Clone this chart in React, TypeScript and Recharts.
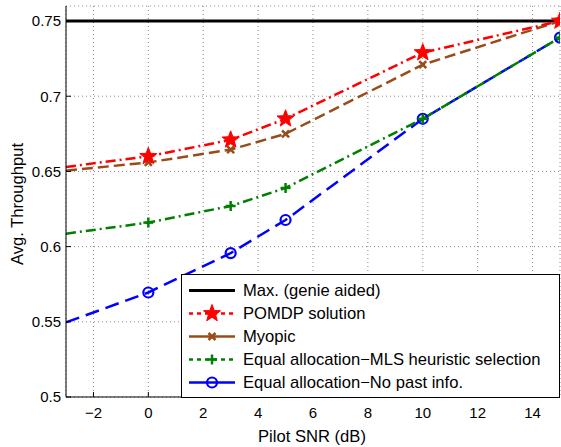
import React from 'react';
import { LineChart, Line, XAxis, YAxis, CartesianGrid, Legend, Label } from 'recharts';

const snr = [-3, 0, 3, 5, 10, 15];
const maxGenie = [0.75, 0.75, 0.75, 0.75, 0.75, 0.75];
const pomdp = [0.653, 0.66, 0.671, 0.685, 0.729, 0.75];
const myopic = [0.6505, 0.656, 0.6645, 0.675, 0.721, 0.75];
const equalMls = [0.6086, 0.616, 0.627, 0.639, 0.685, 0.739];
const equalNoPast = [0.5496, 0.5695, 0.5957, 0.6177, 0.685, 0.739];
const xTicks = [-2, 0, 2, 4, 6, 8, 10, 12, 14];
const yTicks = [0.5, 0.55, 0.6, 0.65, 0.7, 0.75];

const seriesNames = [
  'Max. (genie aided)',
  'POMDP solution',
  'Myopic',
  'Equal allocation\u2212MLS heuristic selection',
  'Equal allocation\u2212No past info.',
];

const data = snr.map((x, i) => ({
  x,
  max: maxGenie[i],
  pomdp: pomdp[i],
  myopic: myopic[i],
  mls: equalMls[i],
  nopast: equalNoPast[i],
}));

const FONT = '"Liberation Sans", Arial, Helvetica, sans-serif';
const RED = '#ff0000';
const BROWN = '#994c19';
const GREEN = '#008000';
const BLUE = '#0000ff';

function starPath(cx: number, cy: number, R: number, r: number) {
  let d = '';
  for (let i = 0; i < 10; i++) {
    const rad = i % 2 === 0 ? R : r;
    const a = -Math.PI / 2 + (i * Math.PI) / 5;
    d += (i === 0 ? 'M' : 'L') + (cx + rad * Math.cos(a)).toFixed(2) + ',' + (cy + rad * Math.sin(a)).toFixed(2);
  }
  return d + 'Z';
}

function Marker({ kind, cx, cy }: { kind: string; cx: number; cy: number }) {
  if (kind === 'star') return <path d={starPath(cx, cy, 9, 3.8)} fill={RED} stroke={RED} strokeWidth={1} />;
  if (kind === 'x')
    return (
      <g stroke={BROWN} strokeWidth={2.5}>
        <line x1={cx - 3.5} y1={cy - 3.5} x2={cx + 3.5} y2={cy + 3.5} />
        <line x1={cx - 3.5} y1={cy + 3.5} x2={cx + 3.5} y2={cy - 3.5} />
      </g>
    );
  if (kind === 'plus')
    return (
      <g stroke={GREEN} strokeWidth={2.5}>
        <line x1={cx - 5} y1={cy} x2={cx + 5} y2={cy} />
        <line x1={cx} y1={cy - 5} x2={cx} y2={cy + 5} />
      </g>
    );
  if (kind === 'circle') return <circle cx={cx} cy={cy} r={5} fill="none" stroke={BLUE} strokeWidth={2.2} />;
  return null;
}

const makeDot = (kind: string) => (props: any) => {
  const { cx, cy, index, payload } = props;
  if (payload == null || payload.x === -3 || cx == null || cy == null) return <g key={'d' + kind + index} />;
  return (
    <g key={'d' + kind + index}>
      <Marker kind={kind} cx={cx} cy={cy} />
    </g>
  );
};

const legendItems = [
  { name: seriesNames[0], color: '#000', dash: undefined as string | undefined, kind: '', w: 3 },
  { name: seriesNames[1], color: RED, dash: '4 4', kind: 'star', w: 2.5 },
  { name: seriesNames[2], color: BROWN, dash: undefined as string | undefined, kind: 'x', w: 2.5 },
  { name: seriesNames[3], color: GREEN, dash: '4 4', kind: 'plus', w: 2.5 },
  { name: seriesNames[4], color: BLUE, dash: undefined as string | undefined, kind: 'circle', w: 2.5 },
];

function LegendBox() {
  return (
    <div
      style={{
        width: 379,
        height: 124,
        boxSizing: 'border-box',
        border: '1px solid #000',
        background: '#fff',
        fontFamily: FONT,
        fontSize: 16.6,
        paddingTop: 4,
        textAlign: 'left',
      }}
    >
      {legendItems.map((it) => (
        <div key={it.name} style={{ height: 23, display: 'flex', alignItems: 'center' }}>
          <svg width={61} height={23} style={{ display: 'block', flex: 'none' }}>
            <line x1={7} y1={11.5} x2={53} y2={11.5} stroke={it.color} strokeWidth={it.w} strokeDasharray={it.dash} />
            {it.kind && <Marker kind={it.kind} cx={30} cy={11.5} />}
          </svg>
          <span style={{ color: '#000', whiteSpace: 'nowrap' }}>{it.name}</span>
        </div>
      ))}
    </div>
  );
}

const fmtX = (v: number) => String(v).replace('-', '\u2212');

export default function App() {
  return (
    <div style={{ position: 'absolute', left: 0, top: 0, width: 561, height: 447, background: '#fff' }}>
      <LineChart width={561} height={447} data={data} margin={{ top: 6, right: 1, bottom: 0, left: 0 }} style={{ fontFamily: FONT }}>
        <CartesianGrid stroke="#8a8a8a" strokeDasharray="1 3" strokeWidth={1} />
        <XAxis
          dataKey="x"
          type="number"
          domain={[-3, 15]}
          ticks={xTicks}
          allowDataOverflow
          height={50}
          tickSize={-5}
          tickMargin={15}
          tickFormatter={fmtX}
          stroke="#000"
          tick={{ fill: '#000', fontSize: 15 }}
          axisLine={{ stroke: '#000', strokeWidth: 1 }}
        >
          <Label
            content={() => (
              <text x={312} y={442} textAnchor="middle" fontSize={16.6} fill="#000" fontFamily={FONT}>
                Pilot SNR (dB)
              </text>
            )}
          />
        </XAxis>
        <XAxis
          xAxisId="top"
          orientation="top"
          dataKey="x"
          type="number"
          domain={[-3, 15]}
          ticks={xTicks}
          height={0}
          tickSize={-5}
          tick={false}
          stroke="#000"
        />
        <YAxis
          type="number"
          domain={[0.5, 0.76]}
          ticks={yTicks}
          allowDataOverflow
          width={66}
          tickSize={-5}
          tickMargin={10}
          stroke="#000"
          tick={{ fill: '#000', fontSize: 15 }}
        >
          <Label
            content={() => (
              <text x={23} y={204} transform="rotate(-90 23 204)" textAnchor="middle" fontSize={16.6} fill="#000" fontFamily={FONT}>
                Avg. Throughput
              </text>
            )}
          />
        </YAxis>
        <YAxis
          yAxisId="right"
          orientation="right"
          type="number"
          domain={[0.5, 0.76]}
          ticks={yTicks}
          width={0}
          tickSize={-5}
          tick={false}
          stroke="#000"
        />
        <Line dataKey="max" name={seriesNames[0]} stroke="#000" strokeWidth={3} dot={false} isAnimationActive={false} />
        <Line dataKey="myopic" name={seriesNames[2]} stroke={BROWN} strokeWidth={2.5} strokeDasharray="11 5" dot={makeDot('x')} isAnimationActive={false} />
        <Line dataKey="pomdp" name={seriesNames[1]} stroke={RED} strokeWidth={2.5} strokeDasharray="10 4 2 4" dot={makeDot('star')} isAnimationActive={false} />
        <Line dataKey="nopast" name={seriesNames[4]} stroke={BLUE} strokeWidth={2.5} strokeDasharray="14 7" dot={makeDot('circle')} isAnimationActive={false} />
        <Line dataKey="mls" name={seriesNames[3]} stroke={GREEN} strokeWidth={2.5} strokeDasharray="10 4 2 4" dot={makeDot('plus')} isAnimationActive={false} />
        <Legend
          layout="vertical"
          align="center"
          verticalAlign="middle"
          content={() => <LegendBox />}
          wrapperStyle={{ position: 'absolute', left: 181, top: 274, width: 379, height: 124, bottom: 'auto', right: 'auto', margin: 0 }}
        />
      </LineChart>
    </div>
  );
}
